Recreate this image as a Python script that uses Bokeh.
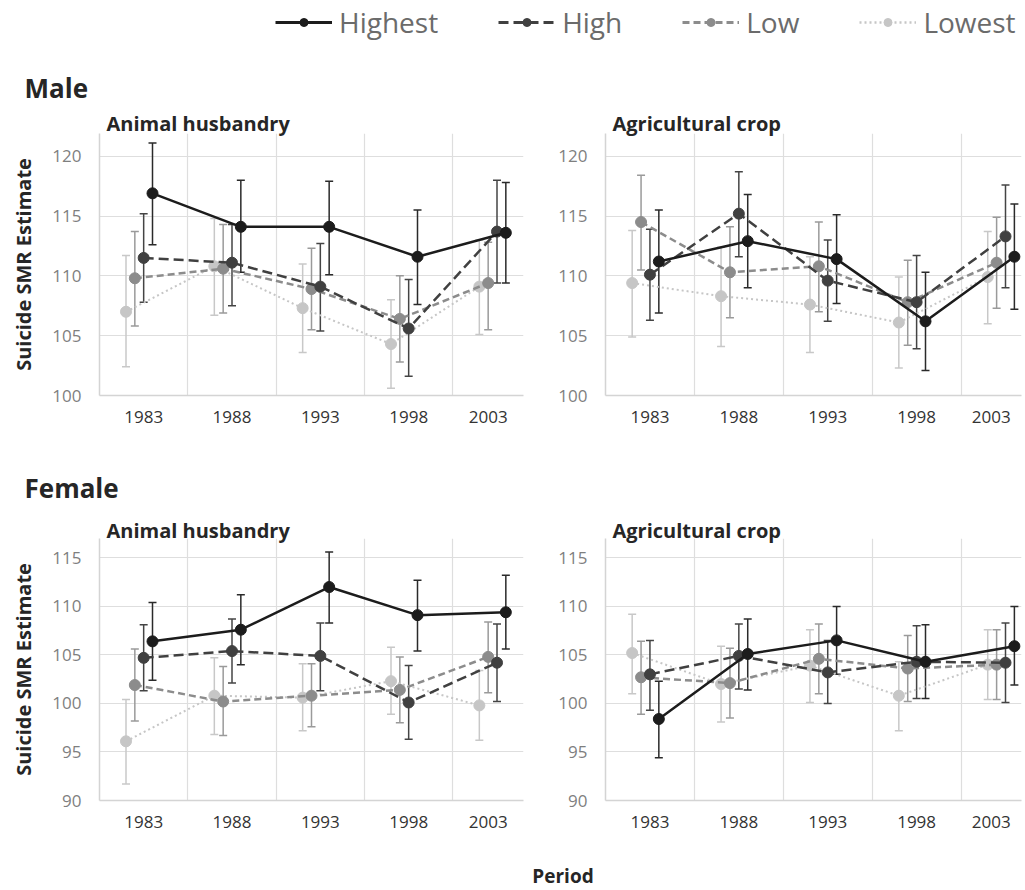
from bokeh.plotting import figure
from bokeh.models import (Range1d, FixedTicker, Whisker, TeeHead, ColumnDataSource,
                          Title, Legend, LegendItem, Label)
from bokeh.layouts import column, row
from bokeh.embed import file_html
from bokeh.resources import INLINE

# ---------------- data ----------------
periods = [1983, 1988, 1993, 1998, 2003]
period_labels = ["1983", "1988", "1993", "1998", "2003"]
groups = ["Highest", "High", "Low", "Lowest"]

# Male - Animal husbandry
ma_highest = [116.9, 114.1, 114.1, 111.6, 113.6]
ma_highest_hi = [121.1, 118.0, 117.9, 115.5, 117.8]
ma_highest_lo = [112.6, 110.3, 110.1, 107.6, 109.4]
ma_high = [111.5, 111.1, 109.1, 105.6, 113.7]
ma_high_hi = [115.2, 114.3, 112.7, 109.7, 118.0]
ma_high_lo = [107.8, 107.5, 105.4, 101.6, 109.4]
ma_low = [109.8, 110.6, 108.9, 106.4, 109.4]
ma_low_hi = [113.7, 114.3, 112.3, 110.0, 112.8]
ma_low_lo = [105.8, 106.9, 105.5, 102.8, 105.5]
ma_lowest = [107.0, 110.8, 107.3, 104.3, 109.1]
ma_lowest_hi = [111.7, 114.8, 111.0, 108.0, 113.0]
ma_lowest_lo = [102.4, 106.7, 103.6, 100.6, 105.1]

# Male - Agricultural crop
mc_highest = [111.2, 112.9, 111.4, 106.2, 111.6]
mc_highest_hi = [115.5, 116.8, 115.1, 110.3, 116.0]
mc_highest_lo = [106.9, 109.0, 107.7, 102.1, 107.2]
mc_high = [110.1, 115.2, 109.6, 107.8, 113.3]
mc_high_hi = [113.9, 118.7, 113.0, 111.7, 117.6]
mc_high_lo = [106.3, 111.6, 106.2, 103.9, 109.0]
mc_low = [114.5, 110.3, 110.8, 107.8, 111.1]
mc_low_hi = [118.4, 114.1, 114.5, 111.3, 114.9]
mc_low_lo = [110.5, 106.5, 107.0, 104.2, 107.3]
mc_lowest = [109.4, 108.3, 107.6, 106.1, 109.9]
mc_lowest_hi = [113.8, 112.4, 111.6, 109.9, 113.7]
mc_lowest_lo = [104.9, 104.1, 103.6, 102.3, 106.0]

# Female - Animal husbandry
fa_highest = [106.4, 107.6, 112.0, 109.1, 109.4]
fa_highest_hi = [110.4, 111.2, 115.6, 112.7, 113.2]
fa_highest_lo = [102.4, 104.0, 108.3, 105.4, 105.6]
fa_high = [104.7, 105.4, 104.9, 100.1, 104.2]
fa_high_hi = [108.1, 108.7, 108.3, 103.9, 108.2]
fa_high_lo = [101.3, 102.1, 101.3, 96.3, 100.2]
fa_low = [101.9, 100.2, 100.8, 101.4, 104.8]
fa_low_hi = [105.6, 103.8, 104.1, 104.8, 108.4]
fa_low_lo = [98.2, 96.7, 97.6, 98.0, 101.1]
fa_lowest = [96.1, 100.8, 100.6, 102.3, 99.8]
fa_lowest_hi = [100.4, 104.7, 104.1, 105.8, 103.4]
fa_lowest_lo = [91.7, 96.8, 97.2, 98.9, 96.2]

# Female - Agricultural crop
fc_highest = [98.4, 105.1, 106.5, 104.3, 105.9]
fc_highest_hi = [102.3, 108.7, 110.0, 108.1, 110.0]
fc_highest_lo = [94.4, 101.4, 103.0, 100.5, 101.9]
fc_high = [103.0, 104.9, 103.2, 104.3, 104.2]
fc_high_hi = [106.5, 108.2, 106.5, 108.0, 108.3]
fc_high_lo = [99.3, 101.5, 100.0, 100.5, 100.1]
fc_low = [102.7, 102.1, 104.6, 103.6, 104.0]
fc_low_hi = [106.4, 105.7, 108.2, 107.0, 107.6]
fc_low_lo = [98.9, 98.5, 101.0, 100.2, 100.4]
fc_lowest = [105.2, 102.0, 103.9, 100.8, 104.0]
fc_lowest_hi = [109.2, 105.9, 107.6, 104.3, 107.6]
fc_lowest_lo = [101.0, 98.1, 100.1, 97.2, 100.4]

male_yticks = [100, 105, 110, 115, 120]
female_yticks = [90, 95, 100, 105, 110, 115]

# ---------------- styles ----------------
FONT = "Open Sans"
offset = {"Highest": 0.5, "High": 0.0, "Low": -0.5, "Lowest": -1.0}
line_col = {"Highest": "#1c1c1c", "High": "#404040", "Low": "#8c8c8c", "Lowest": "#c6c6c6"}
err_col = {"Highest": "#2a2a2a", "High": "#444444", "Low": "#9a9a9a", "Lowest": "#c8c8c8"}
dash = {"Highest": "solid", "High": "10 5", "Low": "7 4", "Lowest": "2 3"}
lwidth = {"Highest": 2.5, "High": 2.5, "Low": 2.5, "Lowest": 2.0}
draw_order = ["Lowest", "Low", "High", "Highest"]
GRID = "#dedede"
X0 = 1980.5


def make_panel(sub, series, yr, yticks, left, xr_end, top_border, bottom_border,
               sub_standoff, section=None, section_standoff=0):
    fw = 424 if left else 416
    p = figure(frame_width=fw, frame_height=262,
               x_range=Range1d(X0, xr_end), y_range=Range1d(*yr),
               output_backend="svg", toolbar_location=None, title=None,
               min_border_left=99 if left else 55, min_border_right=27 if left else 4,
               min_border_top=top_border, min_border_bottom=bottom_border,
               outline_line_color=None, background_fill_color="white",
               border_fill_color="white")
    p.add_layout(Title(text=sub, align="left", offset=7, text_font=FONT,
                       text_font_size="20px", text_font_style="bold",
                       text_color="#262626", standoff=sub_standoff), "above")
    if section:
        p.add_layout(Title(text=section, align="left", offset=-75, text_font=FONT,
                           text_font_size="26px", text_font_style="bold",
                           text_color="#262626", standoff=section_standoff), "above")

    # category labels sit in the middle of the visible part of each category band
    bounds = [X0 + 5 * i for i in range(len(periods))] + [xr_end]
    tick_pos = [(bounds[i] + min(bounds[i] + 5, xr_end)) / 2 for i in range(len(periods))]
    p.xaxis.ticker = FixedTicker(ticks=tick_pos)
    p.xaxis.major_label_overrides = {t: lab for t, lab in zip(tick_pos, period_labels)}
    p.xgrid.ticker = FixedTicker(ticks=bounds[1:-1])
    p.yaxis.ticker = FixedTicker(ticks=yticks)
    for ax in (p.xaxis, p.yaxis):
        ax.major_tick_in = 0
        ax.major_tick_out = 0
        ax.minor_tick_in = 0
        ax.minor_tick_out = 0
        ax.axis_line_color = "#d4d4d4"
        ax.axis_line_width = 1.5
        ax.major_label_text_font = FONT
        ax.major_label_text_font_size = "17px"
    p.xaxis.major_label_text_color = "#333333"
    p.yaxis.major_label_text_color = "#7f7f7f"
    p.xaxis.major_label_standoff = 15
    p.yaxis.major_label_standoff = 18
    p.grid.grid_line_color = GRID
    p.grid.grid_line_width = 1.2
    if left:
        p.yaxis.axis_label = "Suicide SMR Estimate"
        p.yaxis.axis_label_text_font = FONT
        p.yaxis.axis_label_text_font_size = "20px"
        p.yaxis.axis_label_text_font_style = "bold"
        p.yaxis.axis_label_text_color = "#262626"
        p.yaxis.axis_label_standoff = 12

    for g in draw_order:
        est, lo, hi = series[g]
        src = ColumnDataSource(dict(x=[yv + offset[g] for yv in periods],
                                    y=est, lower=lo, upper=hi))
        w = Whisker(source=src, base="x", upper="upper", lower="lower",
                    dimension="height", line_color=err_col[g], line_width=1.5,
                    upper_head=TeeHead(size=8, line_color=err_col[g], line_width=1.5),
                    lower_head=TeeHead(size=8, line_color=err_col[g], line_width=1.5))
        p.add_layout(w)
    for g in draw_order:
        est, lo, hi = series[g]
        src = ColumnDataSource(dict(x=[yv + offset[g] for yv in periods], y=est))
        p.line("x", "y", source=src, line_color=line_col[g], line_width=lwidth[g],
               line_dash=dash[g])
        p.scatter("x", "y", source=src, size=11, marker="circle",
                  fill_color=line_col[g], line_color=line_col[g])
    return p


ma = {"Highest": (ma_highest, ma_highest_lo, ma_highest_hi),
      "High": (ma_high, ma_high_lo, ma_high_hi),
      "Low": (ma_low, ma_low_lo, ma_low_hi),
      "Lowest": (ma_lowest, ma_lowest_lo, ma_lowest_hi)}
mc = {"Highest": (mc_highest, mc_highest_lo, mc_highest_hi),
      "High": (mc_high, mc_high_lo, mc_high_hi),
      "Low": (mc_low, mc_low_lo, mc_low_hi),
      "Lowest": (mc_lowest, mc_lowest_lo, mc_lowest_hi)}
fa = {"Highest": (fa_highest, fa_highest_lo, fa_highest_hi),
      "High": (fa_high, fa_high_lo, fa_high_hi),
      "Low": (fa_low, fa_low_lo, fa_low_hi),
      "Lowest": (fa_lowest, fa_lowest_lo, fa_lowest_hi)}
fc = {"Highest": (fc_highest, fc_highest_lo, fc_highest_hi),
      "High": (fc_high, fc_high_lo, fc_high_hi),
      "Low": (fc_low, fc_low_lo, fc_low_hi),
      "Lowest": (fc_lowest, fc_lowest_lo, fc_lowest_hi)}

p_ma = make_panel("Animal husbandry", ma, (100, 121.9), male_yticks, True, 2004.5,
                  73, 58, -6.5, section="Male", section_standoff=9)
p_mc = make_panel("Agricultural crop", mc, (100, 121.9), male_yticks, False, 2003.9,
                  73, 58, -6.5)
p_fa = make_panel("Animal husbandry", fa, (90, 117.0), female_yticks, True, 2004.5,
                  85, 48, -10.5, section="Female", section_standoff=28)
p_fc = make_panel("Agricultural crop", fc, (90, 117.0), female_yticks, False, 2003.9,
                  85, 48, -10.5)

# ---------------- legend strip ----------------
lf = figure(width=1025, height=60, x_range=Range1d(0, 1025), y_range=Range1d(0, 60),
            output_backend="svg", toolbar_location=None, min_border=0,
            outline_line_color=None, title=None)
lf.axis.visible = False
lf.grid.visible = False
items = []
for g in groups:
    lr = lf.line(x=[-30, -20], y=[-30, -30], line_color=line_col[g],
                 line_width=lwidth[g] + 0.5, line_dash=dash[g])
    sr = lf.scatter(x=[-25], y=[-30], size=9, marker="circle",
                    fill_color=line_col[g], line_color=line_col[g])
    items.append(LegendItem(label=g, renderers=[lr, sr]))
leg = Legend(items=items, orientation="horizontal", location=(275, 19),
             label_text_font=FONT, label_text_font_size="28px",
             label_text_color="#6b6b6b", glyph_width=57, glyph_height=20,
             spacing=60, label_standoff=7, padding=0, margin=0,
             border_line_alpha=0, background_fill_alpha=0)
lf.add_layout(leg)

# ---------------- x-axis caption strip ----------------
pf = figure(width=1025, height=42, x_range=Range1d(0, 1025), y_range=Range1d(0, 42),
            output_backend="svg", toolbar_location=None, min_border=0,
            outline_line_color=None, title=None)
pf.axis.visible = False
pf.grid.visible = False
pf.add_layout(Label(x=562.5, y=15, text="Period", text_font=FONT,
                    text_font_size="19px", text_font_style="bold",
                    text_color="#262626", text_align="center",
                    text_baseline="middle"))

layout = column(lf, row(p_ma, p_mc), row(p_fa, p_fc), pf)
open("out.html", "w").write(file_html(layout, INLINE, "Suicide SMR"))
